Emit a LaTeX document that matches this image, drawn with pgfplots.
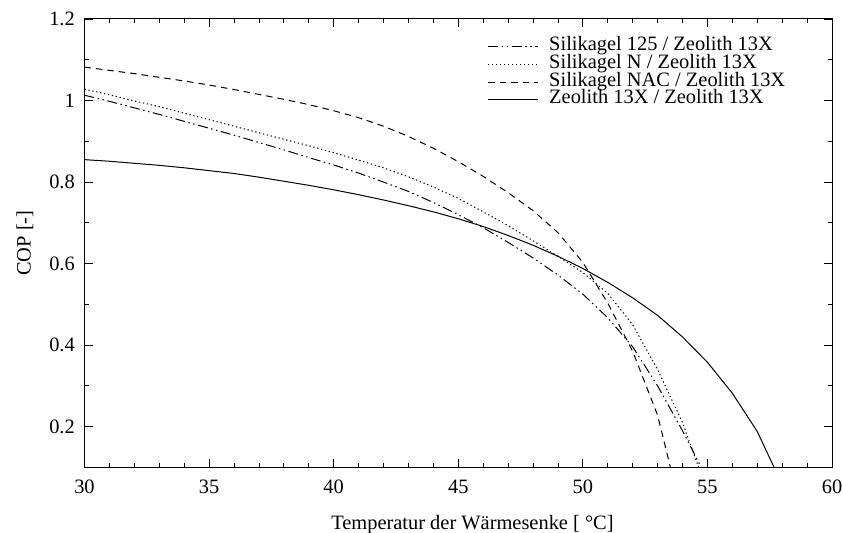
\documentclass[border=0pt]{standalone}
\usepackage{fontspec}
\setmainfont{Liberation Serif}
\usepackage{pgfplots}
\pgfplotsset{compat=1.18}

% COP over heat-sink temperature for four adsorbent pairings
\pgfplotstableread{
T     cop
30    1.013
31    0.998
32    0.982
33    0.966
34    0.949
35    0.932
36    0.915
37    0.897
38    0.879
39    0.860
40    0.842
41    0.822
42    0.800
43    0.777
44    0.750
45    0.720
46    0.688
47    0.652
48    0.614
49    0.572
50    0.525
51    0.467
52    0.396
53    0.300
54    0.190
55    0.070
}\silONEtwofive

\pgfplotstableread{
T     cop
30    1.028
31    1.014
32    0.999
33    0.985
34    0.969
35    0.953
36    0.937
37    0.921
38    0.905
39    0.889
40    0.872
41    0.854
42    0.835
43    0.813
44    0.788
45    0.760
46    0.727
47    0.693
48    0.656
49    0.618
50    0.578
51    0.527
52    0.450
53    0.340
54    0.210
55    0.040
}\silN

\pgfplotstableread{
T     cop
30    1.082
31    1.074
32    1.066
33    1.057
34    1.048
35    1.038
36    1.027
37    1.015
38    1.003
39    0.990
40    0.975
41    0.958
42    0.937
43    0.912
44    0.883
45    0.850
46    0.814
47    0.774
48    0.730
49    0.676
50    0.603
51    0.503
52    0.385
53    0.228
54   -0.020
}\silNAC

\pgfplotstableread{
T     cop
30    0.855
31    0.851
32    0.846
33    0.841
34    0.835
35    0.828
36    0.821
37    0.812
38    0.802
39    0.792
40    0.781
41    0.769
42    0.756
43    0.742
44    0.727
45    0.710
46    0.691
47    0.669
48    0.645
49    0.618
50    0.588
51    0.554
52    0.516
53    0.473
54    0.420
55    0.358
56    0.282
57    0.188
58    0.058
}\zeoX

\begin{document}
\fontsize{20.5}{24}\selectfont
\begin{tikzpicture}
\begin{axis}[
  at={(0,0)}, anchor=south west,
  scale only axis, width=747.5bp, height=448.4bp,
  xmin=30, xmax=60, ymin=0.1, ymax=1.2,
  xtick={30,35,...,60}, minor x tick num=4,
  ytick={0.2,0.4,0.6,0.8,1,1.2}, minor y tick num=1,
  major tick length=8.5bp, minor tick length=4.5bp,
  tick style={line width=0.8bp, black},
  axis line style={line width=1bp},
  /pgf/number format/assume math mode=true,
  font=\fontsize{20.5}{24}\selectfont,
  xticklabel style={yshift=-5.8bp},
  yticklabel style={xshift=-2.7bp},
  xlabel={Temperatur der Wärmesenke [ °C]},
  ylabel={COP [-]},
  xlabel style={at={(axis description cs:0.519,-0.1374)}, anchor=base},
  ylabel style={at={(axis description cs:-0.0796,0.5)}, anchor=center},
  legend style={draw=none, fill=none, inner sep=0pt,
    at={(axis description cs:0.5389,0.958)}, anchor=north west,
    row sep=0pt, column sep=10.7bp,
    nodes={inner sep=0pt, text height=12.8bp, text depth=4.9bp}},
  legend cell align=left,
  legend image code/.code={\draw[#1] (0bp,0bp) -- (50bp,0bp);},
  every axis plot/.append style={line width=1bp, black},
]
\addplot[dash pattern=on 10bp off 3.5bp on 1.5bp off 3.5bp on 1.5bp off 3.5bp] table[x=T, y=cop] {\silONEtwofive};
\addlegendentry{Silikagel 125 / Zeolith 13X}
\addplot[dash pattern=on 1.3bp off 2.7bp] table[x=T, y=cop] {\silN};
\addlegendentry{Silikagel N / Zeolith 13X}
\addplot[dash pattern=on 6.5bp off 5bp] table[x=T, y=cop] {\silNAC};
\addlegendentry{Silikagel NAC / Zeolith 13X}
\addplot[solid] table[x=T, y=cop] {\zeoX};
\addlegendentry{Zeolith 13X / Zeolith 13X}
\end{axis}
\pgfresetboundingbox
\useasboundingbox (-84.5bp,-65.6bp) rectangle (758.5bp,467.4bp);
\end{tikzpicture}
\end{document}
